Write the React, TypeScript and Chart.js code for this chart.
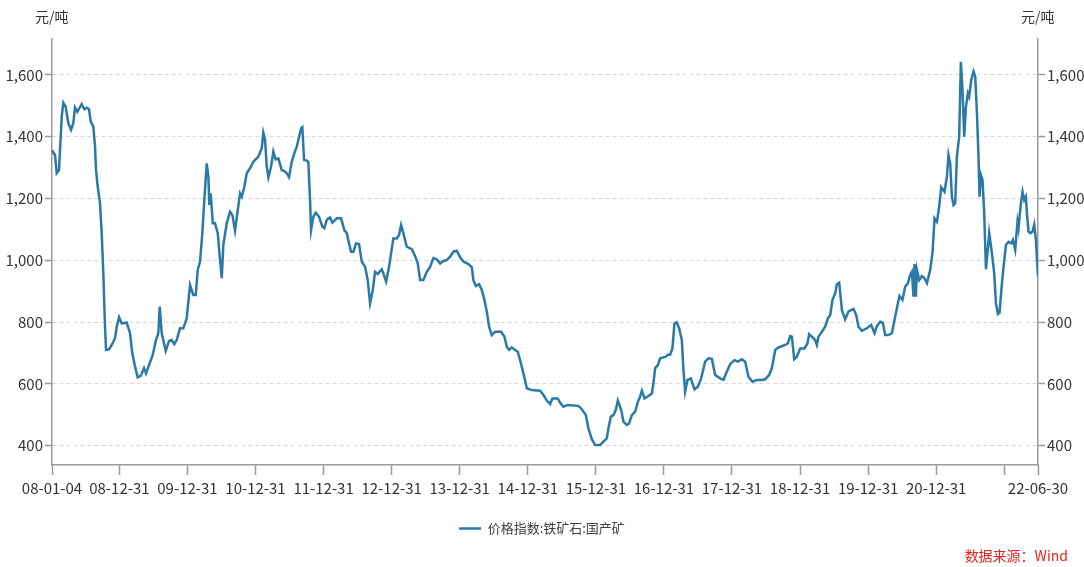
import React, { useEffect, useRef } from 'react';
import { Chart, registerables } from 'chart.js';

Chart.register(...registerables);

const FONT = "'Noto Sans CJK SC', 'Noto Sans', sans-serif";
const LINE_COLOR = '#2a79a6';

const seriesName = '价格指数:铁矿石:国产矿';
const unitLabel = '元/吨';
const sourceLabel = '数据来源：Wind';

// decimal years (time of each observation)
const dates = [
  2008.010, 2008.054, 2008.079, 2008.113, 2008.153, 2008.176, 2008.211, 2008.250, 2008.289, 2008.323,
  2008.348, 2008.382, 2008.446, 2008.485, 2008.520, 2008.554, 2008.579, 2008.617, 2008.642, 2008.657,
  2008.682, 2008.715, 2008.740, 2008.764, 2008.789, 2008.804, 2008.848, 2008.887, 2008.936, 2008.961,
  2008.995, 2009.034, 2009.108, 2009.156, 2009.190, 2009.230, 2009.269, 2009.313, 2009.362, 2009.391,
  2009.435, 2009.490, 2009.538, 2009.572, 2009.593, 2009.622, 2009.681, 2009.729, 2009.769, 2009.807,
  2009.842, 2009.891, 2009.939, 2009.989, 2010.038, 2010.086, 2010.122, 2010.151, 2010.185, 2010.219,
  2010.248, 2010.283, 2010.307, 2010.322, 2010.342, 2010.372, 2010.405, 2010.445, 2010.479, 2010.504,
  2010.527, 2010.577, 2010.626, 2010.660, 2010.699, 2010.739, 2010.773, 2010.798, 2010.836, 2010.871,
  2010.920, 2010.968, 2011.042, 2011.092, 2011.115, 2011.140, 2011.165, 2011.189, 2011.228, 2011.262,
  2011.297, 2011.336, 2011.385, 2011.424, 2011.459, 2011.493, 2011.532, 2011.571, 2011.606, 2011.640,
  2011.669, 2011.688, 2011.713, 2011.753, 2011.776, 2011.801, 2011.816, 2011.850, 2011.885, 2011.934,
  2011.982, 2012.011, 2012.047, 2012.095, 2012.129, 2012.194, 2012.257, 2012.305, 2012.341, 2012.374,
  2012.404, 2012.438, 2012.477, 2012.521, 2012.561, 2012.610, 2012.649, 2012.683, 2012.723, 2012.756,
  2012.796, 2012.855, 2012.878, 2012.918, 2012.962, 2013.025, 2013.075, 2013.109, 2013.139, 2013.172,
  2013.222, 2013.296, 2013.344, 2013.384, 2013.418, 2013.466, 2013.516, 2013.565, 2013.613, 2013.663,
  2013.712, 2013.760, 2013.810, 2013.859, 2013.907, 2013.957, 2014.006, 2014.054, 2014.128, 2014.178,
  2014.201, 2014.236, 2014.285, 2014.324, 2014.363, 2014.398, 2014.432, 2014.471, 2014.520, 2014.608,
  2014.657, 2014.692, 2014.726, 2014.765, 2014.814, 2014.853, 2014.887, 2014.936, 2014.986, 2015.059,
  2015.181, 2015.230, 2015.280, 2015.328, 2015.362, 2015.441, 2015.475, 2015.524, 2015.588, 2015.744,
  2015.794, 2015.853, 2015.891, 2015.941, 2015.989, 2016.063, 2016.111, 2016.161, 2016.185, 2016.220,
  2016.258, 2016.294, 2016.323, 2016.372, 2016.405, 2016.455, 2016.489, 2016.529, 2016.577, 2016.617,
  2016.651, 2016.676, 2016.714, 2016.773, 2016.823, 2016.846, 2016.871, 2016.911, 2016.945, 2016.993,
  2017.028, 2017.058, 2017.091, 2017.125, 2017.155, 2017.190, 2017.224, 2017.263, 2017.287, 2017.312,
  2017.346, 2017.396, 2017.449, 2017.499, 2017.547, 2017.606, 2017.654, 2017.704, 2017.753, 2017.826,
  2017.875, 2017.925, 2017.973, 2018.036, 2018.086, 2018.145, 2018.194, 2018.242, 2018.301, 2018.366,
  2018.439, 2018.488, 2018.546, 2018.586, 2018.635, 2018.683, 2018.781, 2018.821, 2018.855, 2018.880,
  2018.914, 2018.953, 2019.002, 2019.065, 2019.109, 2019.134, 2019.174, 2019.222, 2019.247, 2019.271,
  2019.321, 2019.369, 2019.409, 2019.443, 2019.477, 2019.516, 2019.541, 2019.575, 2019.615, 2019.663,
  2019.712, 2019.785, 2019.825, 2019.859, 2019.908, 2019.982, 2020.045, 2020.094, 2020.129, 2020.178,
  2020.217, 2020.251, 2020.300, 2020.349, 2020.398, 2020.438, 2020.461, 2020.505, 2020.545, 2020.585,
  2020.618, 2020.643, 2020.667, 2020.682, 2020.702, 2020.717, 2020.751, 2020.790, 2020.828, 2020.864,
  2020.912, 2020.946, 2020.976, 2021.011, 2021.044, 2021.074, 2021.122, 2021.158, 2021.181, 2021.206,
  2021.231, 2021.255, 2021.280, 2021.304, 2021.338, 2021.363, 2021.387, 2021.412, 2021.437, 2021.466,
  2021.485, 2021.515, 2021.549, 2021.574, 2021.599, 2021.622, 2021.637, 2021.657, 2021.681, 2021.706,
  2021.731, 2021.754, 2021.779, 2021.819, 2021.853, 2021.878, 2021.907, 2021.931, 2021.966, 2021.990,
  2022.025, 2022.063, 2022.103, 2022.128, 2022.161, 2022.195, 2022.210, 2022.245, 2022.269, 2022.294,
  2022.318, 2022.333, 2022.357, 2022.386, 2022.416, 2022.440, 2022.465, 2022.496,
];

const prices = [
  1357, 1341, 1282, 1292, 1465, 1510, 1497, 1444, 1422, 1444,
  1495, 1481, 1506, 1489, 1494, 1489, 1449, 1433, 1368, 1292,
  1238, 1185, 1088, 958, 785, 710, 712, 726, 748, 785,
  816, 796, 798, 764, 699, 656, 621, 626, 651, 634,
  661, 694, 742, 764, 850, 764, 707, 739, 742, 729,
  742, 780, 780, 812, 920, 888, 888, 969, 996, 1088,
  1195, 1314, 1271, 1179, 1217, 1120, 1120, 1088, 1001, 942,
  1050, 1120, 1157, 1147, 1096, 1163, 1217, 1206, 1238, 1282,
  1298, 1319, 1336, 1363, 1413, 1390, 1303, 1269, 1303, 1352,
  1327, 1330, 1292, 1289, 1282, 1269, 1319, 1347, 1368, 1400,
  1427, 1431, 1325, 1323, 1319, 1195, 1098, 1141, 1154, 1141,
  1109, 1104, 1131, 1139, 1122, 1136, 1136, 1098, 1088, 1055,
  1028, 1028, 1055, 1053, 996, 979, 936, 861, 904, 963,
  956, 971, 958, 931, 979, 1071, 1071, 1082, 1114, 1088,
  1044, 1036, 1014, 990, 936, 936, 963, 979, 1007, 1003,
  990, 998, 1001, 1012, 1028, 1031, 1010, 996, 988, 977,
  936, 917, 923, 904, 872, 834, 785, 758, 769, 769,
  753, 720, 710, 718, 710, 704, 677, 634, 586, 580,
  578, 564, 546, 535, 553, 553, 539, 526, 532, 529,
  518, 499, 456, 421, 402, 402, 413, 424, 456, 494,
  499, 516, 546, 516, 478, 467, 472, 499, 510, 542,
  559, 578, 553, 561, 569, 602, 651, 661, 683, 686,
  688, 694, 694, 715, 796, 799, 780, 742, 645, 575,
  613, 618, 582, 591, 618, 672, 683, 681, 629, 618,
  613, 640, 664, 677, 672, 680, 672, 623, 607, 613,
  613, 615, 629, 651, 710, 718, 726, 731, 755, 753,
  680, 688, 715, 715, 731, 761, 753, 742, 726, 753,
  769, 785, 812, 823, 872, 893, 923, 928, 839, 809,
  835, 843, 823, 785, 772, 780, 791, 764, 787, 801,
  798, 758, 758, 764, 818, 861, 885, 872, 915, 926,
  953, 963, 882, 988, 882, 969, 936, 949, 942, 926,
  969, 1023, 1136, 1125, 1174, 1237, 1222, 1271, 1341, 1314,
  1206, 1179, 1185, 1336, 1400, 1643, 1551, 1400, 1497, 1541,
  1530, 1584, 1611, 1594, 1476, 1336, 1206, 1276, 1260, 1152,
  971, 1023, 1088, 1023, 958, 861, 826, 830, 926, 979,
  1050, 1060, 1055, 1066, 1034, 1125, 1104, 1185, 1222, 1195,
  1206, 1152, 1093, 1088, 1093, 1115, 1066, 947,
];

// x-axis ticks (decimal years) and their labels
const xTickValues = [2008.010, 2009, 2010, 2011, 2012, 2013, 2014, 2015, 2016, 2017, 2018, 2019, 2020, 2021, 2022, 2022.496];
const xTickLabels = ['08-01-04', '08-12-31', '09-12-31', '10-12-31', '11-12-31', '12-12-31', '13-12-31', '14-12-31',
  '15-12-31', '16-12-31', '17-12-31', '18-12-31', '19-12-31', '20-12-31', '', '22-06-30'];
const yTickValues = [400, 600, 800, 1000, 1200, 1400, 1600];
const yMin = 337.5;
const yMax = 1716.5;

export default function App() {
  const ref = useRef<HTMLCanvasElement | null>(null);

  useEffect(() => {
    const canvas = ref.current;
    if (!canvas) return;
    const tickFont = { family: FONT, size: 15 };
    const yTicksBuild = (s: any) => {
      s.ticks = yTickValues.map((v) => ({ value: v }));
    };
    const chart = new Chart(canvas, {
      type: 'line',
      data: {
        datasets: [
          {
            label: seriesName,
            data: dates.map((d, i) => ({ x: d, y: prices[i] })),
            borderColor: LINE_COLOR,
            backgroundColor: LINE_COLOR,
            borderWidth: 2.5,
            pointRadius: 0,
            pointHoverRadius: 0,
            tension: 0,
            yAxisID: 'yL',
          },
        ],
      },
      options: {
        animation: false,
        responsive: false,
        devicePixelRatio: 1,
        layout: { padding: { top: 39, left: 0, right: 0, bottom: 22 } },
        plugins: {
          tooltip: { enabled: false },
          legend: {
            display: true,
            position: 'bottom',
            align: 'center',
            labels: {
              usePointStyle: true,
              pointStyle: 'line',
              pointStyleWidth: 22,
              color: '#404040',
              font: { family: FONT, size: 13 },
              padding: 10,
            },
          },
        },
        scales: {
          x: {
            type: 'linear',
            min: xTickValues[0],
            max: xTickValues[xTickValues.length - 1],
            afterBuildTicks: (s: any) => {
              s.ticks = xTickValues.map((v) => ({ value: v }));
            },
            afterFit: (s: any) => {
              s.height = 47;
            },
            ticks: {
              autoSkip: false,
              maxRotation: 0,
              minRotation: 0,
              padding: 4,
              color: '#333333',
              font: tickFont,
              callback: (_v: any, i: number) => xTickLabels[i],
            },
            grid: {
              display: true,
              drawOnChartArea: false,
              drawTicks: true,
              tickLength: 10,
              tickColor: '#9a9a9a',
              tickWidth: 1.5,
            },
            border: { display: true, color: '#9a9a9a', width: 1.5 },
          },
          yL: {
            type: 'linear',
            position: 'left',
            min: yMin,
            max: yMax,
            afterBuildTicks: yTicksBuild,
            afterFit: (s: any) => {
              s.width = 52;
            },
            ticks: {
              padding: 2,
              color: '#333333',
              font: tickFont,
              callback: (v: any) => Number(v).toLocaleString('en-US'),
            },
            grid: {
              display: true,
              drawOnChartArea: true,
              color: '#d9d9d9',
              lineWidth: 1,
              drawTicks: true,
              tickLength: 7,
              tickColor: '#9a9a9a',
              tickWidth: 1.5,
            },
            border: { display: true, color: '#9a9a9a', width: 1.5, dash: [4, 3] },
          },
          yR: {
            type: 'linear',
            position: 'right',
            min: yMin,
            max: yMax,
            afterBuildTicks: yTicksBuild,
            afterFit: (s: any) => {
              s.width = 46;
            },
            ticks: {
              padding: 2,
              color: '#333333',
              font: tickFont,
              callback: (v: any) => Number(v).toLocaleString('en-US'),
            },
            grid: {
              display: true,
              drawOnChartArea: false,
              drawTicks: true,
              tickLength: 7,
              tickColor: '#9a9a9a',
              tickWidth: 1.5,
            },
            border: { display: true, color: '#9a9a9a', width: 1.5 },
          },
        },
      },
    } as any);
    return () => chart.destroy();
  }, []);

  const textStyle: React.CSSProperties = {
    position: 'absolute',
    fontFamily: FONT,
    fontSize: 14,
    color: '#333333',
    whiteSpace: 'nowrap',
    lineHeight: '18px',
  };

  return (
    <div style={{ position: 'absolute', left: 0, top: 0, width: 1084, height: 567, background: '#ffffff' }}>
      <canvas ref={ref} width={1084} height={567} style={{ display: 'block', width: 1084, height: 567 }} />
      <div style={{ ...textStyle, left: 35, top: 7 }}>{unitLabel}</div>
      <div style={{ ...textStyle, left: 1021, top: 7 }}>{unitLabel}</div>
      <div style={{ ...textStyle, right: 16, top: 546, color: '#e8231c', fontSize: 14 }}>{sourceLabel}</div>
    </div>
  );
}
